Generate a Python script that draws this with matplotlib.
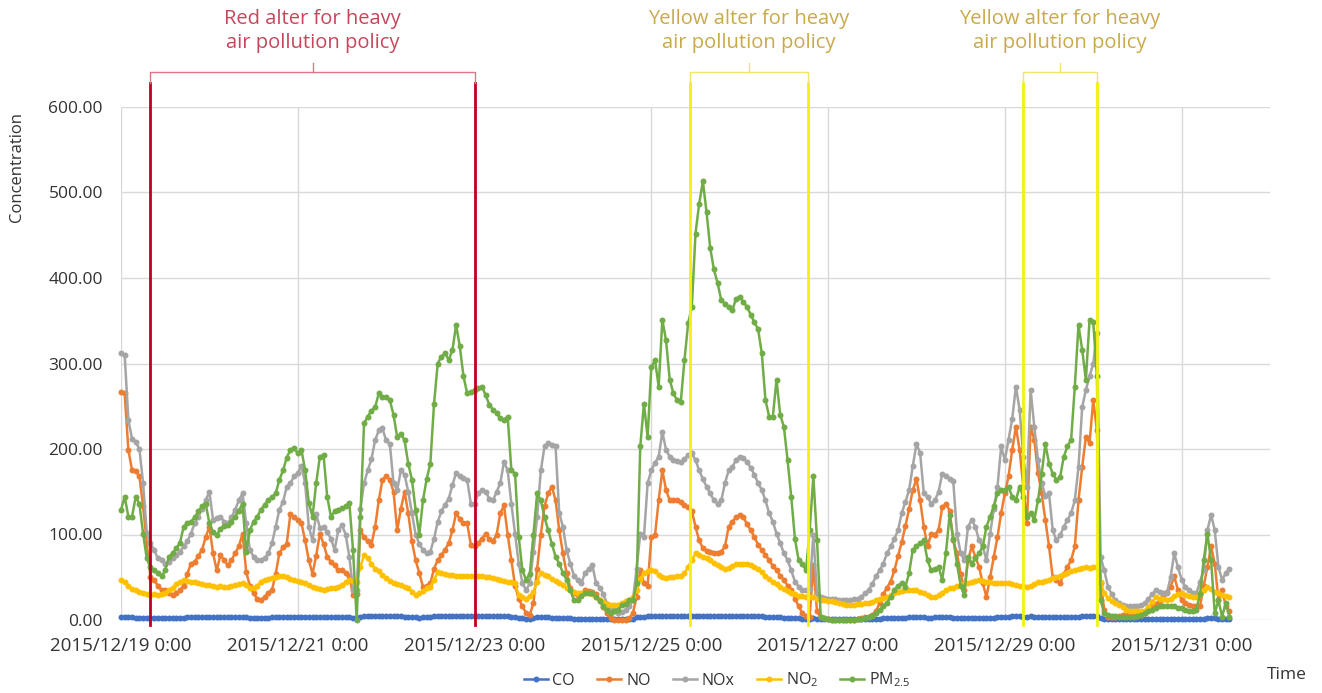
import numpy as np
import matplotlib
matplotlib.use("Agg")
import matplotlib.pyplot as plt

plt.rcParams['font.family'] = ['Open Sans', 'DejaVu Sans']

# Hourly concentrations from 2015/12/19 0:00, one row per day
co = [
    3.5, 3.4, 3.2, 3.0, 2.9, 2.8, 2.6, 2.4, 2.3, 2.3, 2.2, 2.2, 2.3, 2.4, 2.5, 2.6, 2.7, 2.8, 3.0, 3.1, 3.2, 3.3, 3.4, 3.5,
    3.4, 3.3, 3.2, 3.1, 3.0, 3.0, 3.1, 3.2, 3.3, 3.4, 3.0, 2.7, 2.6, 2.5, 2.6, 2.7, 2.9, 3.1, 3.3, 3.5, 3.6, 3.8, 3.9, 4.0,
    4.0, 3.9, 3.6, 3.3, 3.1, 3.4, 3.6, 3.5, 3.3, 3.2, 3.2, 3.3, 3.4, 3.2, 3.0, 2.2, 1.8, 3.4, 4.2, 4.4, 4.5, 4.7, 4.8, 4.8,
    4.7, 4.6, 4.3, 4.1, 4.2, 4.0, 3.7, 3.4, 3.1, 2.9, 3.0, 3.3, 3.8, 4.3, 4.6, 4.8, 4.9, 5.0, 5.1, 5.2, 5.0, 4.8, 4.7, 4.7,
    4.7, 4.7, 4.8, 4.6, 4.5, 4.4, 4.3, 4.2, 4.2, 4.2, 3.6, 3.3, 2.4, 1.8, 1.5, 1.6, 2.6, 3.4, 3.6, 3.4, 3.1, 2.8, 2.6, 2.4,
    2.2, 2.0, 1.8, 1.6, 1.6, 1.7, 1.7, 1.7, 1.6, 1.5, 1.4, 1.2, 1.1, 1.0, 1.0, 1.1, 1.2, 1.3, 1.4, 1.7, 3.2, 4.0, 3.8, 4.4,
    4.4, 4.5, 4.4, 4.7, 4.6, 4.5, 4.4, 4.4, 4.4, 4.5, 4.7, 4.8, 5.0, 5.1, 5.2, 5.0, 4.9, 4.8, 4.7, 4.6, 4.6, 4.6, 4.6, 4.7,
    4.7, 4.6, 4.6, 4.5, 4.4, 4.3, 4.1, 3.9, 3.7, 3.5, 3.3, 3.1, 2.9, 2.7, 2.4, 2.1, 1.9, 1.7, 1.6, 1.5, 2.2, 1.5, 1.3, 1.2,
    1.2, 1.1, 1.1, 1.0, 1.0, 1.0, 1.0, 1.0, 1.1, 1.1, 1.2, 1.3, 1.4, 1.5, 1.7, 1.9, 2.1, 2.3, 2.5, 2.7, 2.8, 2.9, 3.1, 3.4,
    3.6, 3.4, 3.1, 2.9, 2.9, 3.0, 3.2, 3.3, 3.3, 3.2, 2.9, 2.6, 2.3, 2.1, 2.5, 2.7, 2.6, 2.5, 2.4, 2.3, 2.5, 2.9, 3.3, 3.6,
    3.7, 3.9, 4.1, 4.4, 4.2, 3.8, 3.6, 4.2, 4.0, 3.7, 3.5, 3.5, 3.4, 3.1, 3.0, 3.0, 3.1, 3.3, 3.5, 3.6, 4.0, 4.5, 4.7, 4.9,
    5.0, 5.1, 2.0, 1.2, 1.0, 0.9, 0.9, 0.8, 0.8, 0.8, 0.8, 0.8, 0.8, 0.8, 0.9, 1.0, 1.1, 1.2, 1.2, 1.2, 1.2, 1.3, 1.5, 1.4,
    1.3, 1.2, 1.2, 1.1, 1.1, 1.3, 1.6, 2.0, 2.2, 1.8, 1.3, 1.3, 1.2, 1.1,
]

no = [
    267, 265, 199, 175, 174, 168, 133, 90, 50, 47, 40, 35, 35, 32, 29, 31, 35, 40, 54, 66, 68, 75, 82, 97,
    109, 78, 58, 76, 70, 64, 70, 78, 86, 101, 56, 40, 31, 25, 23, 27, 32, 35, 54, 78, 85, 89, 124, 120,
    117, 113, 93, 70, 54, 75, 101, 89, 74, 68, 64, 58, 59, 55, 51, 29, 30, 105, 97, 92, 88, 109, 140, 164,
    168, 164, 150, 105, 130, 150, 125, 92, 70, 55, 39, 40, 43, 60, 70, 76, 82, 90, 105, 125, 118, 113, 113, 88,
    86, 90, 95, 101, 95, 92, 100, 125, 134, 100, 70, 40, 25, 16, 8, 6, 20, 60, 100, 133, 148, 156, 140, 105,
    78, 55, 38, 31, 29, 30, 35, 34, 33, 30, 23, 15, 8, 2, 0, 0, 0, 0, 2, 8, 27, 59, 43, 40,
    97, 99, 140, 175, 152, 140, 140, 140, 138, 135, 132, 128, 109, 93, 84, 81, 80, 78, 78, 80, 86, 109, 115, 120,
    123, 120, 112, 105, 97, 88, 82, 76, 70, 63, 58, 52, 47, 40, 35, 25, 16, 8, 5, 4, 64, 10, 3, 2,
    1, 0, 0, 0, 0, 0, 0, 0, 1, 2, 3, 4, 6, 10, 20, 30, 38, 45, 58, 75, 91, 110, 130, 152,
    165, 140, 109, 86, 101, 100, 105, 132, 136, 128, 93, 78, 54, 35, 70, 86, 74, 62, 43, 27, 50, 74, 97, 125,
    148, 168, 199, 226, 199, 156, 113, 226, 211, 172, 148, 117, 86, 50, 47, 43, 54, 62, 70, 86, 140, 179, 214, 207,
    257, 222, 43, 12, 4, 3, 4, 5, 6, 6, 6, 5, 5, 6, 8, 12, 16, 19, 22, 28, 33, 39, 51, 35,
    23, 20, 18, 16, 16, 16, 40, 62, 86, 66, 23, 35, 16, 10,
]

nox = [
    312, 310, 234, 212, 208, 200, 160, 102, 90, 82, 72, 70, 66, 68, 72, 76, 80, 86, 92, 101, 113, 121, 130, 140,
    150, 117, 119, 121, 115, 113, 120, 129, 140, 148, 113, 82, 74, 70, 70, 72, 78, 90, 109, 129, 138, 156, 160, 168,
    172, 180, 160, 109, 93, 124, 108, 109, 103, 95, 82, 105, 111, 100, 74, 35, 35, 130, 160, 175, 188, 210, 222, 224,
    210, 206, 160, 152, 175, 170, 150, 125, 100, 89, 82, 78, 80, 95, 115, 127, 135, 142, 158, 172, 168, 166, 164, 136,
    136, 148, 152, 150, 142, 140, 150, 160, 185, 175, 136, 101, 66, 43, 35, 43, 80, 121, 175, 203, 207, 205, 203, 125,
    109, 82, 66, 52, 47, 43, 55, 60, 64, 43, 38, 30, 19, 14, 12, 8, 9, 12, 16, 23, 60, 101, 97, 160,
    175, 184, 191, 220, 199, 191, 187, 186, 185, 188, 193, 195, 187, 175, 165, 156, 148, 140, 136, 140, 160, 175, 179, 187,
    191, 189, 185, 178, 170, 160, 152, 140, 125, 115, 101, 90, 78, 70, 58, 45, 39, 35, 35, 36, 100, 30, 27, 26,
    25, 24, 24, 23, 23, 23, 23, 24, 25, 27, 31, 35, 42, 51, 58, 66, 78, 86, 95, 105, 125, 138, 152, 180,
    206, 195, 148, 144, 136, 140, 150, 171, 169, 165, 162, 101, 78, 70, 109, 117, 109, 93, 86, 70, 101, 130, 156, 203,
    187, 211, 235, 273, 246, 191, 156, 269, 226, 187, 160, 145, 148, 105, 93, 99, 109, 117, 125, 140, 179, 249, 269, 285,
    300, 336, 74, 58, 39, 30, 23, 20, 18, 16, 16, 16, 16, 17, 20, 25, 30, 35, 33, 31, 31, 50, 78, 62,
    47, 39, 35, 31, 31, 45, 58, 105, 123, 105, 62, 47, 55, 60,
]

no2 = [
    47, 45, 40, 36, 35, 33, 32, 30, 29, 30, 29, 30, 32, 35, 38, 42, 45, 47, 46, 45, 44, 43, 42, 41,
    41, 40, 39, 40, 39, 39, 40, 41, 42, 43, 41, 38, 37, 40, 45, 47, 48, 49, 50, 51, 51, 50, 48, 47,
    46, 45, 43, 41, 39, 38, 36, 35, 36, 37, 38, 39, 41, 44, 47, 46, 45, 62, 76, 72, 66, 60, 57, 53,
    49, 46, 43, 42, 41, 39, 38, 33, 29, 31, 34, 37, 39, 47, 56, 55, 54, 53, 53, 52, 52, 51, 51, 51,
    51, 51, 51, 50, 50, 49, 48, 47, 46, 45, 44, 43, 29, 27, 25, 28, 33, 45, 55, 53, 51, 48, 46, 43,
    41, 38, 35, 33, 32, 32, 31, 31, 30, 27, 23, 21, 19, 18, 17, 18, 20, 22, 23, 27, 35, 48, 55, 57,
    59, 57, 53, 50, 49, 50, 50, 51, 51, 55, 62, 70, 78, 76, 74, 72, 70, 67, 64, 62, 60, 61, 63, 65,
    66, 66, 66, 64, 62, 60, 56, 52, 48, 45, 42, 39, 36, 34, 32, 30, 28, 28, 27, 27, 27, 25, 23, 23,
    22, 22, 21, 20, 19, 18, 18, 18, 19, 19, 20, 20, 21, 23, 25, 26, 27, 29, 31, 33, 34, 35, 35, 35,
    35, 33, 31, 29, 27, 27, 29, 32, 35, 37, 38, 40, 41, 42, 43, 45, 46, 47, 46, 45, 44, 43, 43, 43,
    43, 43, 42, 41, 40, 40, 39, 40, 42, 44, 45, 46, 47, 49, 50, 52, 54, 55, 57, 58, 60, 61, 62, 61,
    62, 62, 45, 31, 26, 22, 20, 18, 15, 12, 11, 10, 10, 10, 11, 15, 21, 27, 25, 24, 23, 25, 28, 30,
    31, 29, 28, 27, 27, 30, 35, 39, 36, 33, 31, 29, 28, 27,
]

pm25 = [
    129, 144, 121, 121, 144, 136, 101, 72, 62, 58, 55, 51, 58, 74, 78, 84, 90, 109, 113, 115, 120, 127, 133, 136,
    113, 103, 99, 107, 110, 111, 115, 121, 128, 136, 80, 105, 115, 121, 129, 135, 140, 144, 148, 164, 175, 190, 199, 201,
    195, 199, 175, 137, 121, 160, 191, 193, 144, 121, 127, 129, 131, 133, 137, 82, 0, 121, 230, 238, 245, 249, 265, 261,
    261, 257, 240, 214, 218, 210, 183, 164, 129, 100, 140, 165, 183, 253, 300, 308, 312, 304, 316, 345, 320, 285, 265, 267,
    269, 271, 273, 263, 252, 246, 242, 236, 234, 238, 175, 171, 97, 58, 47, 54, 100, 148, 140, 120, 105, 89, 74, 66,
    55, 47, 35, 23, 23, 28, 31, 31, 31, 27, 22, 16, 12, 8, 10, 12, 17, 19, 23, 23, 43, 203, 253, 214,
    296, 304, 273, 351, 327, 281, 265, 257, 255, 304, 347, 366, 452, 487, 513, 477, 435, 410, 394, 374, 370, 366, 362, 376,
    378, 372, 366, 357, 348, 340, 312, 257, 238, 238, 281, 240, 226, 187, 144, 95, 70, 66, 58, 105, 168, 93, 4, 2,
    1, 0, 0, 0, 0, 0, 0, 0, 1, 1, 2, 3, 5, 8, 12, 16, 20, 27, 35, 40, 43, 39, 55, 82,
    86, 90, 93, 70, 58, 60, 62, 47, 78, 123, 95, 66, 40, 29, 74, 66, 72, 78, 86, 109, 121, 133, 148, 152,
    152, 156, 144, 140, 156, 144, 121, 125, 117, 140, 171, 206, 183, 171, 164, 167, 191, 203, 211, 273, 345, 316, 281, 351,
    349, 285, 23, 8, 6, 5, 5, 4, 4, 4, 4, 4, 5, 6, 8, 10, 12, 14, 16, 16, 16, 16, 16, 14,
    14, 12, 10, 10, 12, 30, 70, 101, 70, 8, 23, 4, 20, 4,
]

series_names = ['CO', 'NO', 'NOx', r'NO$\mathregular{_2}$', r'PM$\mathregular{_{2.5}}$']
series_colors = ['#4472c4', '#ed7d31', '#a5a5a5', '#ffc000', '#70ad47']

tick_hours = [0, 48, 96, 144, 192, 240, 288]
tick_labels = ['2015/12/19 0:00', '2015/12/21 0:00', '2015/12/23 0:00', '2015/12/25 0:00',
               '2015/12/27 0:00', '2015/12/29 0:00', '2015/12/31 0:00']

# alert periods, hours after 2015/12/19 0:00
red_alerts = [(8, 96)]
yellow_alerts = [(154.5, 186.5), (245, 265)]
alert_text = 'alter for heavy\nair pollution policy'

for s in (co, no, nox, no2, pm25):
    assert len(s) == len(co), len(s)

fig = plt.figure(figsize=(13.22, 6.93), dpi=100)
ax = fig.add_axes([121 / 1322, 1 - 620 / 693, 1149 / 1322, 513 / 693])

hours = np.arange(len(co))
for vals, name, color in zip((co, no, nox, no2, pm25), series_names, series_colors):
    ax.plot(hours, vals, color=color, lw=1.8, marker='o', ms=4.3, mew=0,
            label=name, clip_on=False, zorder=3)

ax.set_xlim(0, 312)
ax.set_ylim(0, 600)
ax.set_yticks(range(0, 601, 100))
ax.set_yticklabels([f'{v:.2f}' for v in range(0, 601, 100)])
ax.set_xticks(tick_hours)
ax.set_xticklabels(tick_labels)
ax.grid(color='#d9d9d9', lw=1)
ax.set_axisbelow(True)
ax.tick_params(length=0, colors='#333333')
ax.tick_params(axis='x', pad=12, labelsize=13.5)
ax.tick_params(axis='y', pad=13, labelsize=12.5)
for sp in ax.spines.values():
    sp.set_visible(False)


def alert(start, end, line_color, bracket_color, text_color, title):
    mid = (start + end) / 2
    for h in (start, end):
        ax.plot([h, h], [-6, 628], color=line_color, lw=2, clip_on=False, zorder=5)
    ax.plot([start, start, end, end], [628, 641, 641, 628], color=bracket_color,
            lw=1, clip_on=False, zorder=5)
    ax.plot([mid, mid], [641, 651], color=bracket_color, lw=1, clip_on=False, zorder=5)
    ax.text(mid, 689, title, ha='center', va='center', fontsize=14.5,
            color=text_color, linespacing=1.3, clip_on=False)


for s, e in red_alerts:
    alert(s, e, '#c00020', '#e07585', '#c8455a', 'Red ' + alert_text)
for s, e in yellow_alerts:
    alert(s, e, '#f2f20a', '#f0e46a', '#c9a94b', 'Yellow ' + alert_text)

fig.text(17 / 1322, 1 - 167 / 693, 'Concentration', rotation=90, ha='center',
         va='center', fontsize=12, color='#333333')
fig.text(1287 / 1322, 1 - 675 / 693, 'Time', ha='center', va='center',
         fontsize=12.5, color='#333333')

fig.legend(loc='center', bbox_to_anchor=(717 / 1322, 1 - 680 / 693), ncol=5,
           frameon=False, fontsize=11.5, handlelength=1.5, columnspacing=1.4,
           handletextpad=0.3, labelcolor='#333333')

fig.savefig('out.png', dpi=100)
